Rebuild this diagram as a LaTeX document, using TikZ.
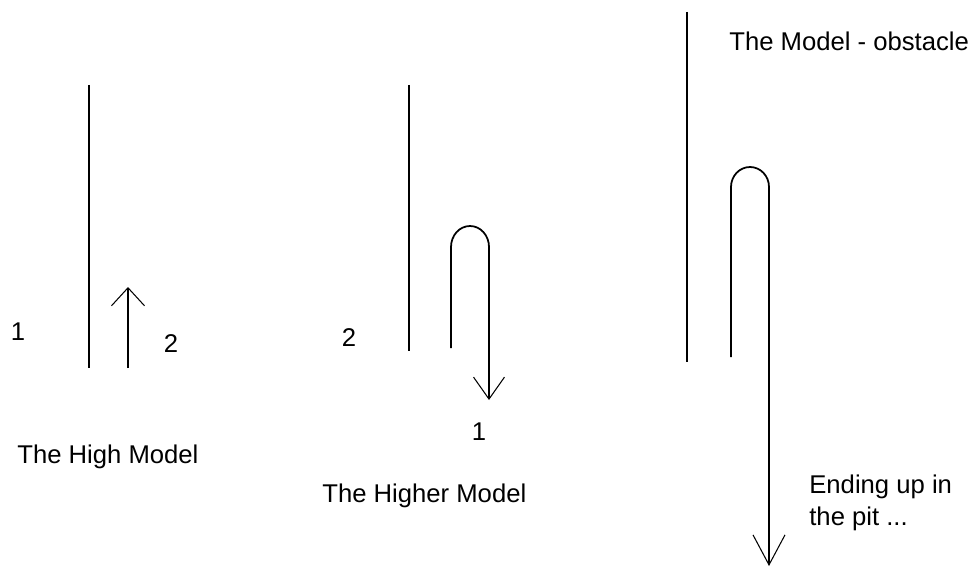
\documentclass[tikz,border=0pt]{standalone}
\usepackage{fontspec}
\setmainfont{Liberation Sans}
\usetikzlibrary{arrows.meta}

\tikzset{
  wall/.style={line width=1pt},
  route/.style 2 args={line width=1pt,-{Straight Barb[length=#1,width=#2,line width=0.6pt]}},
  lbl/.style={font=\fontsize{14.6}{17.6}\selectfont,inner sep=0pt}
}

\begin{document}
\begin{tikzpicture}[x=0.2mm,y=-0.2mm]
  \useasboundingbox (0,0) rectangle (974,568);
  % the high model
  \draw[wall] (89,85) -- (89,368);
  \coordinate (startA) at (128,368);
  \coordinate (endA) at (128,287);
  \draw[route={3.6mm}{6.6mm}] (startA) -- (endA);
  \node[lbl] (oneA) at (18,332) {1};
  \node[lbl] (twoA) at (171,344) {2};
  \node[lbl,anchor=base west] (nameA) at (17,463) {The High Model};
  % the higher model
  \draw[wall] (409,85) -- (409,351);
  \coordinate (startB) at (451,348);
  \coordinate (endB) at (489,400);
  \draw[route={4.4mm}{6.2mm}] (startB) -- (451,247)
    arc[start angle=180,end angle=0,x radius=3.8mm,y radius=4.2mm] -- (endB);
  \node[lbl] (twoB) at (349,338) {2};
  \node[lbl] (oneB) at (479,432) {1};
  \node[lbl,anchor=base west] (nameB) at (322,502) {The Higher Model};
  % the model with an obstacle
  \draw[wall] (687,12) -- (687,362);
  \coordinate (startC) at (731,357);
  \coordinate (endC) at (769,566);
  \draw[route={6mm}{6.4mm}] (startC) -- (731,187)
    arc[start angle=180,end angle=0,x radius=3.8mm,y radius=4mm] -- (endC);
  \node[lbl,anchor=base west] (nameC) at (729,51) {The Model - obstacle};
  \node[lbl,anchor=base west] (pitA) at (809,493) {Ending up in};
  \node[lbl,anchor=base west] (pitB) at (809,525) {the pit ...};
\end{tikzpicture}
\end{document}
